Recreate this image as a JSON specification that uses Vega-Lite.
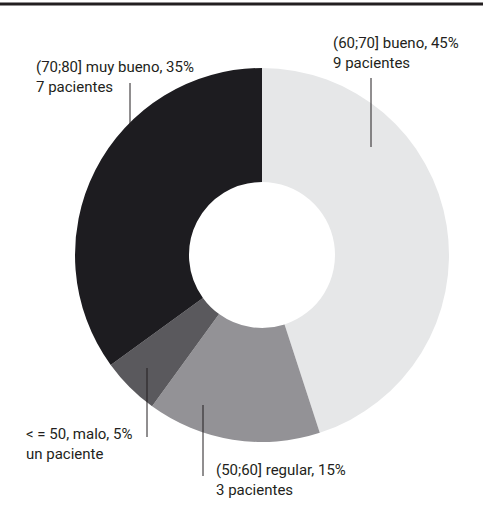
{
  "$schema": "https://vega.github.io/schema/vega-lite/v6.json",
  "width": 483,
  "height": 523,
  "padding": 0,
  "autosize": {"type": "none"},
  "background": "white",
  "config": {"view": {"stroke": null}},
  "datasets": {
    "slices": [
      {"categoria": "(60;70] bueno", "pacientes": 9, "orden": 1},
      {"categoria": "(50;60] regular", "pacientes": 3, "orden": 2},
      {"categoria": "< = 50, malo", "pacientes": 1, "orden": 3},
      {"categoria": "(70;80] muy bueno", "pacientes": 7, "orden": 4}
    ],
    "labels": [
      {"texto": "(60;70] bueno, 45%\n9 pacientes", "lx": 333, "ly": 47.5, "rx": 371, "ry1": 78, "ry2": 147},
      {"texto": "(70;80] muy bueno, 35%\n7 pacientes", "lx": 36, "ly": 72, "rx": 130, "ry1": 83, "ry2": 128},
      {"texto": "< = 50, malo, 5%\nun paciente", "lx": 26, "ly": 439, "rx": 147, "ry1": 368, "ry2": 437},
      {"texto": "(50;60] regular, 15%\n3 pacientes", "lx": 216, "ly": 475, "rx": 203, "ry1": 405, "ry2": 476}
    ],
    "frame": [{"top": 4}]
  },
  "layer": [
    {
      "data": {"name": "slices"},
      "mark": {"type": "arc", "outerRadius": 187, "innerRadius": 73, "stroke": null},
      "encoding": {
        "x": {"datum": 262, "type": "quantitative", "scale": {"domain": [0, 483], "nice": false, "zero": false}, "axis": null},
        "y": {"datum": 255, "type": "quantitative", "scale": {"domain": [0, 523], "nice": false, "zero": false, "reverse": true}, "axis": null},
        "theta": {"field": "pacientes", "type": "quantitative", "stack": true},
        "order": {"field": "orden", "type": "quantitative"},
        "color": {
          "field": "categoria",
          "type": "nominal",
          "legend": null,
          "scale": {
            "domain": ["(60;70] bueno", "(50;60] regular", "< = 50, malo", "(70;80] muy bueno"],
            "range": ["#e6e7e8", "#939296", "#5a595d", "#1d1c20"]
          }
        }
      }
    },
    {
      "data": {"name": "labels"},
      "mark": {"type": "rule", "stroke": "#231f20", "strokeWidth": 1},
      "encoding": {
        "x": {"field": "rx", "type": "quantitative"},
        "y": {"field": "ry1", "type": "quantitative"},
        "y2": {"field": "ry2"}
      }
    },
    {
      "data": {"name": "labels"},
      "mark": {"type": "text", "align": "left", "baseline": "alphabetic", "lineBreak": "\n", "lineHeight": 20, "fontSize": 15, "font": "Roboto", "fill": "#231f20"},
      "encoding": {
        "x": {"field": "lx", "type": "quantitative"},
        "y": {"field": "ly", "type": "quantitative"},
        "text": {"field": "texto", "type": "nominal"}
      }
    },
    {
      "data": {"name": "frame"},
      "mark": {"type": "rule", "stroke": "#231f20", "strokeWidth": 3},
      "encoding": {
        "y": {"field": "top", "type": "quantitative"}
      }
    }
  ]
}
